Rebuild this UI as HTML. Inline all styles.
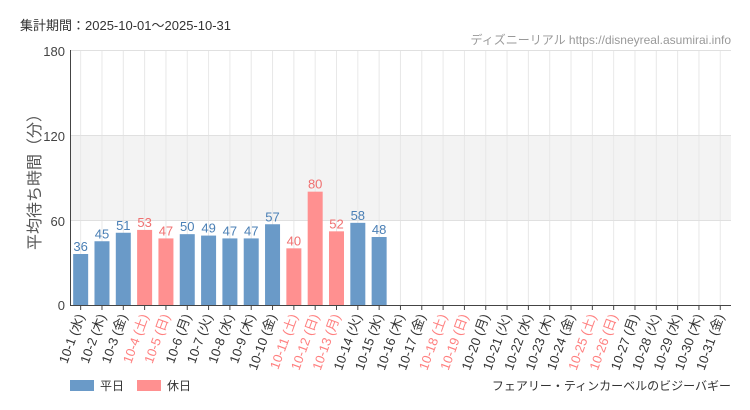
<!DOCTYPE html>
<html><head><meta charset="utf-8"><style>
body{margin:0;background:#fff;}
svg{display:block;font-family:"Liberation Sans","Noto Sans CJK JP",sans-serif;}
</style></head><body>
<svg width="750" height="410" xmlns="http://www.w3.org/2000/svg">
<text x="20" y="30" font-size="13" fill="#333">集計期間：2025-10-01〜2025-10-31</text>
<text x="731" y="44" font-size="12" fill="#999" text-anchor="end" font-family="'Liberation Sans Narrow','Liberation Sans','Noto Sans CJK JP',sans-serif">ディズニーリアル https://disneyreal.asumirai.info</text>
<rect x="70" y="135" width="661" height="85" fill="#f3f3f3"/>
<g stroke="#e8e8e8" stroke-width="1" id="grid"></g>
<line x1="70" y1="50.5" x2="731" y2="50.5" stroke="#e0e0e0"/>
<line x1="70" y1="135.5" x2="731" y2="135.5" stroke="#e0e0e0"/>
<line x1="70" y1="220.5" x2="731" y2="220.5" stroke="#e0e0e0"/>
<g id="bars"></g>
<line x1="70.5" y1="50" x2="70.5" y2="305" stroke="#444"/>
<line x1="70" y1="305.5" x2="731" y2="305.5" stroke="#444"/>
<g font-size="13" fill="#444" text-anchor="end">
<text x="65" y="56">180</text><text x="65" y="141">120</text><text x="65" y="226">60</text><text x="65" y="310">0</text>
</g>
<text transform="translate(40,178) rotate(-90)" font-size="16" fill="#555" text-anchor="middle">平均待ち時間（分）</text>
<g id="labels"></g>
<rect x="70" y="380" width="24" height="11" fill="#6a9ac8"/>
<text x="100" y="390" font-size="12" fill="#333">平日</text>
<rect x="137" y="380" width="24" height="11" fill="#ff9090"/>
<text x="167" y="390" font-size="12" fill="#333">休日</text>
<text x="731" y="390" font-size="12" fill="#333" text-anchor="end">フェアリー・ティンカーベルのビジーバギー</text>
</svg>
<script>
var vals=[36,45,51,53,47,50,49,47,47,57,40,80,52,58,48];
var hol=[4,5,11,12,13,18,19,25,26];
var dow=['水','木','金','土','日','月','火'];
var ns="http://www.w3.org/2000/svg";
var g=document.getElementById('grid'),b=document.getElementById('bars'),l=document.getElementById('labels');
function el(t,a,p,tx){var e=document.createElementNS(ns,t);for(var k in a)e.setAttribute(k,a[k]);if(tx)e.textContent=tx;p.appendChild(e);return e;}
for(var i=0;i<31;i++){
 var cx=70+21.32*(i+0.5),d=i+1,h=hol.indexOf(d)>=0;
 el('line',{x1:cx,y1:50,x2:cx,y2:305},g);
 el('line',{x1:cx,y1:305,x2:cx,y2:310,stroke:'#444'},b);
 if(i<vals.length){var v=vals[i],y=305-v*255/180,c=h?'#ff9090':'#6a9ac8';
  el('rect',{x:cx-7.5,y:y,width:15,height:305-y,fill:c},b);
  el('text',{x:cx,y:y-3,'font-size':13,'text-anchor':'middle',fill:h?'#f07070':'#4a7fb5','font-family':"'Liberation Sans Narrow','Liberation Sans',sans-serif"},b,String(v));}
 el('text',{transform:'translate('+(cx+4)+',316) rotate(-70)','font-size':13,'text-anchor':'end',fill:h?'#ff7f7f':'#333'},l,'10-'+d+' ('+dow[i%7]+')');
}
</script>
</body></html>
